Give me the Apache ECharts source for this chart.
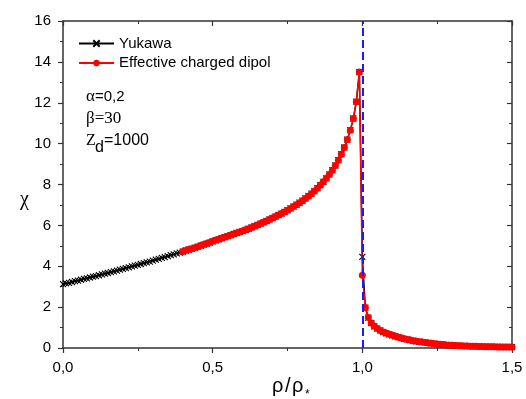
<!DOCTYPE html>
<html>
<head>
<meta charset="utf-8">
<script src="https://cdn.jsdelivr.net/npm/echarts@6/dist/echarts.min.js"></script>
<style>
html,body{margin:0;padding:0;background:#fff;}
#chart{width:526px;height:399px;}
</style>
</head>
<body>
<div id="chart"></div>
<script>
const rho = [0.00,0.01,0.02,0.03,0.04,0.05,0.06,0.07,0.08,0.09,
0.10,0.11,0.12,0.13,0.14,0.15,0.16,0.17,0.18,0.19,
0.20,0.21,0.22,0.23,0.24,0.25,0.26,0.27,0.28,0.29,
0.30,0.31,0.32,0.33,0.34,0.35,0.36,0.37,0.38,0.39,
0.40,0.41,0.42,0.43,0.44,0.45,0.46,0.47,0.48,0.49,
0.50,0.51,0.52,0.53,0.54,0.55,0.56,0.57,0.58,0.59,
0.60,0.61,0.62,0.63,0.64,0.65,0.66,0.67,0.68,0.69,
0.70,0.71,0.72,0.73,0.74,0.75,0.76,0.77,0.78,0.79,
0.80,0.81,0.82,0.83,0.84,0.85,0.86,0.87,0.88,0.89,
0.90,0.91,0.92,0.93,0.94,0.95,0.96,0.97,0.98,0.99,
1.00,1.01,1.02,1.03,1.04,1.05,1.06,1.07,1.08,1.09,
1.10,1.11,1.12,1.13,1.14,1.15,1.16,1.17,1.18,1.19,
1.20,1.21,1.22,1.23,1.24,1.25,1.26,1.27,1.28,1.29,
1.30,1.31,1.32,1.33,1.34,1.35,1.36,1.37,1.38,1.39,
1.40,1.41,1.42,1.43,1.44,1.45,1.46,1.47,1.48,1.49,
1.50];

const chiYukawa = [3.12,3.16,3.19,3.23,3.27,3.30,3.34,3.38,3.41,3.45,
3.49,3.52,3.56,3.60,3.64,3.67,3.71,3.75,3.79,3.83,
3.87,3.91,3.95,3.99,4.03,4.07,4.11,4.15,4.19,4.23,
4.28,4.32,4.36,4.41,4.45,4.49,4.54,4.58,4.63,4.67,
4.72,4.77,4.82,4.86,4.91,4.96,5.01,5.06,5.11,5.16,
5.22,5.27,5.32,5.37,5.42,5.47,5.52,5.58,5.63,5.68,
5.72,5.78,5.84,5.90,5.96,6.02,6.09,6.15,6.22,6.29,
6.36,6.43,6.51,6.58,6.66,6.74,6.83,6.92,7.01,7.11,
7.21,7.32,7.43,7.55,7.68,7.82,7.97,8.13,8.30,8.49,
8.70,8.93,9.19,9.48,9.81,10.20,10.66,11.23,12.05,13.50,
4.46,1.98,1.49,1.22,1.06,0.95,0.86,0.78,0.72,0.67,
0.62,0.57,0.53,0.49,0.45,0.42,0.39,0.36,0.33,0.31,
0.29,0.27,0.25,0.23,0.21,0.19,0.18,0.17,0.15,0.14,
0.13,0.12,0.11,0.105,0.10,0.095,0.09,0.085,0.08,0.075,
0.07,0.067,0.064,0.061,0.058,0.055,0.052,0.05,0.048,0.046,
0.044];

// Effective charged dipol: starts at rho = 0.40
const chiDipol = [4.72,4.77,4.82,4.86,4.91,4.96,5.01,5.06,5.11,5.16,
5.22,5.27,5.32,5.37,5.42,5.47,5.52,5.58,5.63,5.68,
5.72,5.78,5.84,5.90,5.96,6.02,6.09,6.15,6.22,6.29,
6.36,6.43,6.51,6.58,6.66,6.74,6.83,6.92,7.01,7.11,
7.21,7.32,7.43,7.55,7.68,7.82,7.97,8.13,8.30,8.49,
8.70,8.93,9.19,9.48,9.81,10.20,10.66,11.23,12.05,13.50,
3.56,1.98,1.49,1.22,1.06,0.95,0.86,0.78,0.72,0.67,
0.62,0.57,0.53,0.49,0.45,0.42,0.39,0.36,0.33,0.31,
0.29,0.27,0.25,0.23,0.21,0.19,0.18,0.17,0.15,0.14,
0.13,0.12,0.11,0.105,0.10,0.095,0.09,0.085,0.08,0.075,
0.07,0.067,0.064,0.061,0.058,0.055,0.052,0.05,0.048,0.046,
0.044];

const criticalRho = [1.0];
const xTicks = ['0,0','0,5','1,0','1,5'];
const seriesNames = ['Yukawa','Effective charged dipol'];

const rhoDipol = rho.slice(rho.length - chiDipol.length);
const yukawaData = rho.map((x,i)=>[x, chiYukawa[i]]);
const dipolData = rhoDipol.map((x,i)=>[x, chiDipol[i]]);

const FONT = "'Liberation Sans', Arial, sans-serif";
const SERIF = "'Liberation Serif', 'Times New Roman', serif";
const axisColor = '#333';

const baseX = {
  type:'value', min:0, max:1.5, interval:0.5,
  axisLine:{show:true, onZero:false, lineStyle:{color:axisColor, width:1.5}},
  splitLine:{show:false},
  minorTick:{show:true, splitNumber:2, length:3, lineStyle:{color:axisColor, width:1}},
};
const baseY = {
  type:'value', min:0, max:16, interval:2,
  axisLine:{show:true, onZero:false, lineStyle:{color:axisColor, width:1.5}},
  splitLine:{show:false},
  minorTick:{show:true, splitNumber:2, length:3, lineStyle:{color:axisColor, width:1}},
};

const chart = echarts.init(document.getElementById('chart'), null, {renderer:'canvas'});
chart.setOption({
  animation:false,
  backgroundColor:'#fff',
  grid:{left:63, right:14, top:21, bottom:51, containLabel:false},
  legend:{
    orient:'vertical', left:78, top:36, padding:0, itemWidth:35, itemHeight:8, itemGap:4.5,
    data:seriesNames,
    textStyle:{fontFamily:FONT, fontSize:15, lineHeight:15, color:'#000'}
  },
  xAxis:[
    Object.assign({}, baseX, {
      position:'bottom',
      axisTick:{show:true, inside:false, length:5, lineStyle:{color:axisColor, width:1.2}},
      axisLabel:{show:true, margin:12, fontFamily:FONT, fontSize:15, color:'#000',
        formatter:(v)=>xTicks[Math.round(v/0.5)]}
    }),
    Object.assign({}, baseX, {
      position:'top',
      axisTick:{show:true, inside:true, length:5, lineStyle:{color:axisColor, width:1.2}},
      axisLabel:{show:false}
    })
  ],
  yAxis:[
    Object.assign({}, baseY, {
      position:'left',
      axisTick:{show:true, inside:false, length:5, lineStyle:{color:axisColor, width:1.2}},
      axisLabel:{show:true, margin:12, fontFamily:FONT, fontSize:15, color:'#000'}
    }),
    Object.assign({}, baseY, {
      position:'right',
      axisTick:{show:true, inside:true, length:5, lineStyle:{color:axisColor, width:1.2}},
      axisLabel:{show:false}
    })
  ],
  series:[
    {
      name:seriesNames[0], type:'line', xAxisIndex:0, yAxisIndex:0,
      data:yukawaData,
      symbol:'path://M0,0L10,10M10,0L0,10', symbolSize:6,
      itemStyle:{color:'#000', borderColor:'#000', borderWidth:1.1},
      lineStyle:{color:'#000', width:1.5},
      z:2
    },
    {
      name:seriesNames[1], type:'line', xAxisIndex:0, yAxisIndex:0,
      data:dipolData,
      symbol:'circle', symbolSize:7,
      itemStyle:{color:'#ff0000'},
      lineStyle:{color:'#ff0000', width:1.5},
      z:3
    },
    {
      name:'critical', type:'line', xAxisIndex:0, yAxisIndex:0,
      data:[],
      z:4,
      markLine:{
        silent:true, symbol:['none','none'], label:{show:false},
        lineStyle:{color:'#1a1aff', type:[8,4], width:2},
        data:criticalRho.map(v=>({xAxis:v}))
      }
    }
  ],
  graphic:[
    {type:'text', left:20, top:190, style:{text:'χ', font:"20px "+SERIF, fill:'#000'}},
    {type:'text', left:272, top:376, style:{text:'ρ', font:"20px "+FONT, fill:'#000'}},
    {type:'text', left:285, top:376, style:{text:'/', font:"20px "+FONT, fill:'#000'}},
    {type:'text', left:292, top:376, style:{text:'ρ', font:"20px "+FONT, fill:'#000'}},
    {type:'text', left:305, top:389, style:{text:'*', font:"12px "+FONT, fill:'#000'}},
    {type:'text', left:86, top:88, style:{text:'{s|α}=0,2', font:"15px "+FONT, fill:'#000',
      rich:{s:{fontFamily:SERIF, fontSize:17, fill:'#000'}}}},
    {type:'text', left:86, top:110, style:{text:'β=30', font:"17px "+SERIF, fill:'#000'}},
    {type:'text', left:86, top:133, style:{text:'Z', font:"16px "+SERIF, fill:'#000'}},
    {type:'text', left:95, top:140, style:{text:'d', font:"16px "+FONT, fill:'#000'}},
    {type:'text', left:104, top:133, style:{text:'=1000', font:"16px "+FONT, fill:'#000'}}
  ]
});
</script>
</body>
</html>
